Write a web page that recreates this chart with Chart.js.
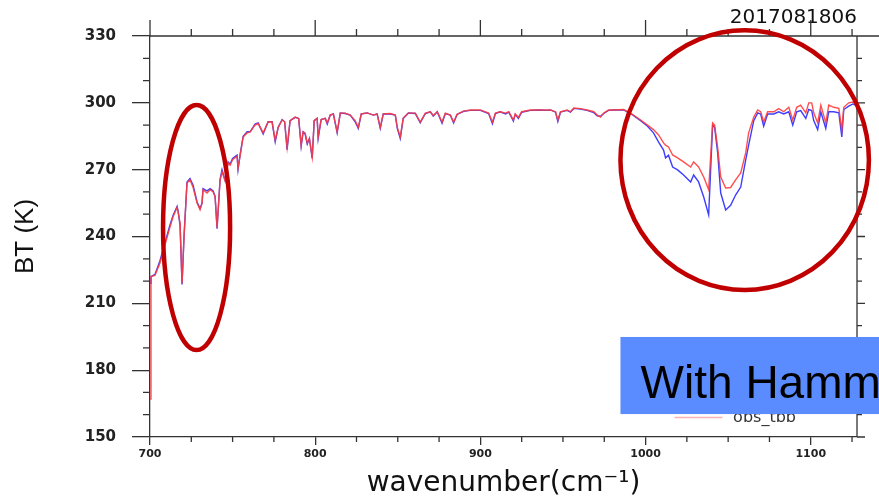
<!DOCTYPE html>
<html>
<head>
<meta charset="utf-8">
<script src="https://cdn.jsdelivr.net/npm/chart.js@4.4.1/dist/chart.umd.min.js"></script>
<style>
  html, body { margin: 0; padding: 0; background: #fff; }
  #wrap { width: 879px; height: 501px; }
</style>
</head>
<body>
<div id="wrap"><canvas id="btChart"></canvas></div>
<script>
// Spectrum (wavenumber cm-1, BT in K)
const wavenumber = [
  700, 700.6, 703, 706, 709, 712, 714, 716.4, 717, 718.2, 719.4, 720.6, 722.4, 724.2, 726.1, 728.5,
  730.3, 731.5, 732.1, 734.5, 736.4, 738.2, 739.4, 740.6, 742.4, 743.6, 745.5, 747.3, 748.5, 750,
  752.7, 753.3, 754.5, 756.4, 758.8, 760.6, 763.6, 765.5, 768.5, 771.5, 773.9, 775.8, 777.6, 780,
  781.5, 783, 784.8, 787.9, 790, 791.5, 792.7, 793.9, 795.2, 796.5, 798.2, 799.4, 801.2, 801.8,
  803.6, 806.1, 807.3, 809.1, 811, 813.3, 815.2, 818.2, 821.2, 824.2, 826.1, 827.9, 831.5, 835.2,
  837.5, 839.4, 841.2, 845.5, 848.5, 849.7, 851.5, 853.3, 856.4, 860.6, 863.6, 866.7, 869.7, 871.5,
  873.9, 876.8, 878.8, 881.8, 883.8, 885.9, 889.9, 893.9, 898, 900, 905, 907.3, 909.1, 912, 915.2,
  917.2, 920, 921.1, 923, 925, 930.3, 935.4, 940.4, 942.4, 945.5, 946.9, 948.5, 952.5, 954.5,
  956.6, 960.6, 964.6, 968.7, 970.7, 972.7, 974.7, 977.6, 980.8, 986.7, 990.9, 997, 1001.2, 1004.8,
  1007.9, 1010.9, 1012.1, 1013.9, 1016.4, 1019.4, 1023, 1027.3, 1029.1, 1032.1, 1035.2, 1038.2,
  1040.6, 1041.8, 1043.6, 1045.5, 1048.5, 1051.5, 1054.5, 1057.6, 1060.6, 1062.4, 1065.5, 1067.9,
  1069.7, 1071.5, 1073.9, 1077.6, 1080.6, 1083.6, 1086.7, 1089.1, 1091.5, 1093.9, 1097, 1098.8,
  1100.6, 1101.8, 1104.2, 1106.1, 1109.1, 1110.9, 1113.9, 1117, 1118.8, 1120, 1123, 1125.5, 1127
];
const obsTbb = [
  167, 222, 222.5, 228, 236, 244, 249, 253, 251, 246, 219, 240, 264, 265.5, 262, 255,
  252, 255, 261, 259.5, 261, 260, 258, 244, 265, 269, 265, 273, 272, 274.5,
  276, 270.8, 276, 284.7, 286.5, 287, 290, 290.7, 286.5, 291.4, 291.5, 283.3, 289, 292.3,
  291.5, 280, 292, 293.6, 293, 281, 287, 286.5, 282, 284, 275.7, 292, 293, 284.7,
  292.5, 293, 291, 294.5, 295, 287, 295.4, 295.4, 294.5, 292, 289, 295, 295.5, 294.5,
  295, 289, 295, 295.2, 294.5, 289, 284.7, 293.2, 295.4, 295.4, 291.4, 295.4, 296, 294.3,
  296, 291.4, 295.4, 294.5, 291.4, 294.9, 296.3, 296.8, 296.8, 296.8, 295.4, 291.4, 295.4, 296, 295.4,
  296, 292.3, 295, 293.5, 296, 296.8, 296.8, 296.8, 296.8, 296, 292.3, 296, 296.8, 296,
  297.7, 297.4, 296.8, 296, 294.5, 293.6, 295.4, 296.8, 296.8, 297, 295.4, 292.3, 290, 288,
  285.6, 282, 281, 280.2, 276.6, 275.3, 273.5, 271.2, 273.5, 271.2, 266.7, 261,
  291, 290, 280.2, 266.7, 261.8, 262, 265.4, 268.5, 277.5, 286.5, 293.6, 296.8,
  296, 291.4, 296, 296, 297.4, 296, 298, 292.3, 298, 299, 295.5, 300,
  300, 295.5, 291, 299, 291, 299, 298, 297.5, 288, 298, 300, 300.4, 299.5
];
const simTbb = [
  219, 222, 223, 229, 237, 245, 249.5, 253.5, 251.5, 245, 218.5, 240, 264.5, 266, 263, 255.5,
  252.5, 255, 261.5, 260.5, 261.5, 260.5, 258, 243.5, 265.5, 270, 265, 273.5, 272.5, 275,
  276.5, 270, 276.5, 285, 287, 287, 290.5, 291, 286, 291.5, 291.5, 282.5, 289, 292.5,
  291.5, 279, 292, 293.5, 293, 280.5, 287, 286, 281.5, 284, 275, 292, 293, 284,
  292.5, 293, 290.5, 294.5, 295, 286.5, 295.4, 295.2, 294.5, 291.5, 288.5, 295, 295.5, 294.5,
  295, 288.5, 295, 295, 294.5, 288.5, 284, 293, 295.4, 295.2, 291, 295.2, 296, 294,
  296, 290.8, 295.2, 294.5, 291, 294.8, 296.2, 296.6, 296.6, 296.6, 295.2, 290.6, 295.2, 296, 295,
  295.8, 291.8, 294.8, 293, 295.8, 296.6, 296.8, 296.6, 296.8, 295.8, 291.6, 295.8, 296.6, 295.8,
  297.5, 297.2, 296.6, 295.6, 294.2, 294, 295.2, 296.6, 296.8, 296.8, 295.2, 292, 289.5, 286.5,
  282.4, 278.8, 275.3, 276.5, 271.2, 269.9, 267.6, 264.5, 267.6, 264.5, 257.7, 249.7,
  290, 289, 278, 259.5, 251.9, 254, 258.6, 262.2, 274.3, 281, 292, 295.5,
  295, 289.5, 295, 295, 296, 295, 296, 290, 296, 296.5, 293, 297,
  296.5, 292, 288, 296, 288.5, 296, 296, 295.5, 284.7, 297, 298.5, 299.5, 299
];

const yTicks = [150, 180, 210, 240, 270, 300, 330];
const xTicks = [700, 800, 900, 1000, 1100];

const axisColor = '#333333';
const obsColor = 'rgba(255, 60, 60, 0.9)';
const simColor = 'rgba(40, 40, 255, 0.9)';
const markRed = '#c00000';

// overlay marks, placed in data units: ellipses, label box, legend
const ellipses = [
  { x: 728.2, y: 244, rx: 20.3, ry: 55 },
  { x: 1060, y: 274.3, rx: 75.2, ry: 58.3 }
];
const labelBox = { x: 984.8, yTop: 194.9, yBottom: 160.3, textX: 997, textY: 167.5, text: 'With Hamming' };
const legendEntry = { x0: 1017.5, x1: 1046.5, y: 158.7, textX: 1053, text: 'obs_tbb' };

const overlay = {
  id: 'overlay',
  afterDatasetsDraw(chart) {
    const { ctx, chartArea: a, scales: { x, y } } = chart;
    ctx.save();
    // frame, minor ticks, top/right ticks
    ctx.strokeStyle = axisColor;
    ctx.lineWidth = 1.3;
    ctx.beginPath();
    ctx.moveTo(a.left, a.top); ctx.lineTo(chart.width, a.top);
    ctx.moveTo(a.right, a.top); ctx.lineTo(a.right, a.bottom);
    for (let v = x.min; v <= x.max; v += 25) {
      const px = x.getPixelForValue(v);
      const major = v % 100 === 0;
      ctx.moveTo(px, a.top); ctx.lineTo(px, a.top - (major ? 16 : 7));
      if (!major) { ctx.moveTo(px, a.bottom); ctx.lineTo(px, a.bottom + 5); }
    }
    for (let v = y.min; v <= y.max; v += 10) {
      const py = y.getPixelForValue(v);
      const major = v % 30 === 0;
      if (!major) { ctx.moveTo(a.left, py); ctx.lineTo(a.left - 7, py); }
      ctx.moveTo(a.right, py); ctx.lineTo(a.right + (major ? 8 : 5), py);
    }
    ctx.stroke();

    // legend (mostly hidden by the box)
    const ly = y.getPixelForValue(legendEntry.y);
    ctx.strokeStyle = '#ffb0b0';
    ctx.lineWidth = 1.5;
    ctx.beginPath();
    ctx.moveTo(x.getPixelForValue(legendEntry.x0), ly);
    ctx.lineTo(x.getPixelForValue(legendEntry.x1), ly);
    ctx.stroke();
    ctx.fillStyle = '#333';
    ctx.font = '16px "DejaVu Sans"';
    ctx.textBaseline = 'middle';
    ctx.fillText(legendEntry.text, x.getPixelForValue(legendEntry.textX), ly);

    // blue label box
    const bx = x.getPixelForValue(labelBox.x);
    const by = y.getPixelForValue(labelBox.yTop);
    const bh = y.getPixelForValue(labelBox.yBottom) - by;
    ctx.fillStyle = '#5b8cff';
    ctx.fillRect(bx, by, chart.width - bx, bh);
    ctx.fillStyle = '#000';
    ctx.font = '46px "Liberation Sans"';
    ctx.textBaseline = 'alphabetic';
    ctx.fillText(labelBox.text, x.getPixelForValue(labelBox.textX), y.getPixelForValue(labelBox.textY));

    // red ellipses
    ctx.strokeStyle = markRed;
    ctx.lineWidth = 4.5;
    ellipses.forEach(e => {
      const cx = x.getPixelForValue(e.x);
      const cy = y.getPixelForValue(e.y);
      const rx = x.getPixelForValue(e.x + e.rx) - cx;
      const ry = cy - y.getPixelForValue(e.y + e.ry);
      ctx.beginPath();
      ctx.ellipse(cx, cy, rx, ry, 0, 0, Math.PI * 2);
      ctx.stroke();
    });
    ctx.restore();
  }
};

new Chart(document.getElementById('btChart'), {
  type: 'line',
  data: {
    datasets: [{
      label: 'obs_tbb',
      data: wavenumber.map((w, i) => ({ x: w, y: obsTbb[i] })),
      borderColor: obsColor,
      borderWidth: 1.4,
      pointRadius: 0,
      tension: 0
    }, {
      label: 'sim_tbb',
      data: wavenumber.map((w, i) => ({ x: w, y: simTbb[i] })),
      borderColor: simColor,
      borderWidth: 1.4,
      pointRadius: 0,
      tension: 0
    }]
  },
  options: {
    responsive: true,
    maintainAspectRatio: false,
    animation: false,
    layout: { padding: { top: 0, right: 22, bottom: 0, left: 0 } },
    plugins: {
      legend: { display: false },
      tooltip: { enabled: false },
      title: {
        display: true,
        text: '2017081806',
        align: 'end',
        color: '#111',
        font: { family: 'DejaVu Sans', size: 20, weight: 'normal' },
        padding: { top: 6, bottom: 6 }
      }
    },
    scales: {
      x: {
        type: 'linear',
        min: 700,
        max: 1128,
        afterFit: s => { s.height = 64; },
        afterBuildTicks: s => { s.ticks = xTicks.map(v => ({ value: v })); },
        ticks: {
          color: '#222',
          padding: 3,
          callback: v => String(v),
          font: { family: 'DejaVu Sans', size: 11, weight: 'bold' }
        },
        grid: { drawOnChartArea: false, tickLength: 8, color: axisColor, lineWidth: 1.3 },
        border: { color: axisColor, width: 1.3 },
        title: {
          display: true,
          text: 'wavenumber(cm\u207B\u00B9)',
          color: '#111',
          font: { family: 'DejaVu Sans', size: 28 },
          padding: { top: 0, bottom: 0 }
        }
      },
      y: {
        min: 150,
        max: 330,
        afterFit: s => { s.width = 150; },
        afterBuildTicks: s => { s.ticks = yTicks.map(v => ({ value: v })); },
        ticks: {
          color: '#222',
          padding: 16,
          callback: v => String(v),
          font: { family: 'DejaVu Sans', size: 15, weight: 'bold' }
        },
        grid: { drawOnChartArea: false, tickLength: 18, color: axisColor, lineWidth: 1.3 },
        border: { color: axisColor, width: 1.3 },
        title: {
          display: true,
          text: 'BT (K)',
          color: '#111',
          font: { family: 'Liberation Sans', size: 26 },
          padding: { top: 10, bottom: 0 }
        }
      }
    }
  },
  plugins: [overlay]
});
</script>
</body>
</html>
